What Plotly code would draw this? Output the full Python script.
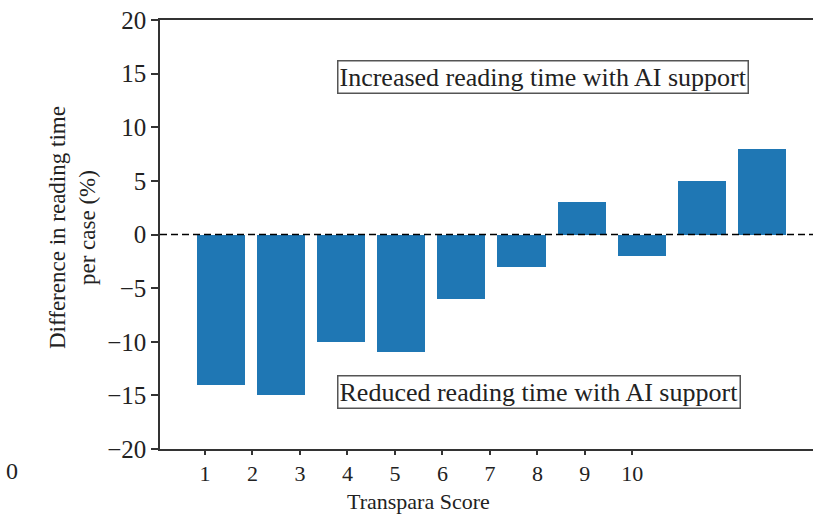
import plotly.graph_objects as go

scores = [1, 2, 3, 4, 5, 6, 7, 8, 9, 10]
diff_pct = [-14, -15, -10, -11, -6, -3, 3, -2, 5, 8]
y_ticks = [-20, -15, -10, -5, 0, 5, 10, 15, 20]
y_tick_text = ["\u221220", "\u221215", "\u221210", "\u22125", "0", "5", "10", "15", "20"]
x_tick_labels = ["1", "2", "3", "4", "5", "6", "7", "8", "9", "10"]

FONT = "Liberation Serif"
AX = "#333333"

fig = go.Figure()
fig.add_trace(go.Bar(x=scores, y=diff_pct, width=0.8, marker_color="#1f77b4",
                     marker_line_width=0, showlegend=False))
# empty trace to instantiate the tick-label axis
fig.add_trace(go.Scatter(x=[], y=[], xaxis="x2", yaxis="y", showlegend=False))

fig.add_hline(y=0, line=dict(color="black", width=1.5, dash="7px,4px"))

fig.update_layout(
    width=813, height=515,
    margin=dict(l=160, r=0, t=20, b=66),
    plot_bgcolor="white", paper_bgcolor="white",
    font=dict(family=FONT, color="#222222"),
    bargap=0,
    xaxis=dict(range=[-0.015, 10.85], showticklabels=False, ticks="",
               showline=True, linecolor=AX, linewidth=1.5, mirror=True,
               showgrid=False, zeroline=False),
    xaxis2=dict(overlaying="x", anchor="y", side="bottom",
                range=[0.052, 13.805], tickmode="array",
                tickvals=scores, ticktext=x_tick_labels,
                ticks="outside", ticklen=5, tickwidth=1.5, tickcolor=AX,
                tickfont=dict(family=FONT, size=22, color="#222222"),
                showline=False, showgrid=False, zeroline=False),
    yaxis=dict(range=[-20, 20], tickmode="array", tickvals=y_ticks,
               ticktext=y_tick_text, ticks="outside", ticklen=7,
               tickwidth=1.5, tickcolor=AX,
               tickfont=dict(family=FONT, size=25, color="#222222"),
               showline=True, linecolor=AX, linewidth=1.5,
               showgrid=False, zeroline=False),
)

fig.add_annotation(text="Increased reading time with AI support",
                   xref="x", yref="y", x=6.35, y=14.64, showarrow=False,
                   font=dict(family=FONT, size=26, color="#222222"),
                   bordercolor="#555555", borderwidth=1.5, borderpad=1,
                   bgcolor="white")
fig.add_annotation(text="Reduced reading time with AI support",
                   xref="x", yref="y", x=6.29, y=-14.73, showarrow=False,
                   font=dict(family=FONT, size=26, color="#222222"),
                   bordercolor="#555555", borderwidth=1.5, borderpad=1,
                   bgcolor="white")

fig.add_annotation(text="Transpara Score", xref="x2", yref="paper",
                   x=5.5, y=-0.1235, yanchor="middle", showarrow=False,
                   font=dict(family=FONT, size=22, color="#222222"))

fig.add_annotation(text="Difference in reading time<br>per case (%)",
                   xref="paper", yref="paper", x=-160/653 + 72/653, y=(449-228)/429,
                   xanchor="center", yanchor="middle", textangle=-90,
                   showarrow=False,
                   font=dict(family=FONT, size=23, color="#222222"))

fig.add_annotation(text="0", xref="paper", yref="paper",
                   x=-148/653, y=(449-471)/429, xanchor="center",
                   yanchor="middle", showarrow=False,
                   font=dict(family=FONT, size=24, color="#222222"))

fig.write_html("out.html")
